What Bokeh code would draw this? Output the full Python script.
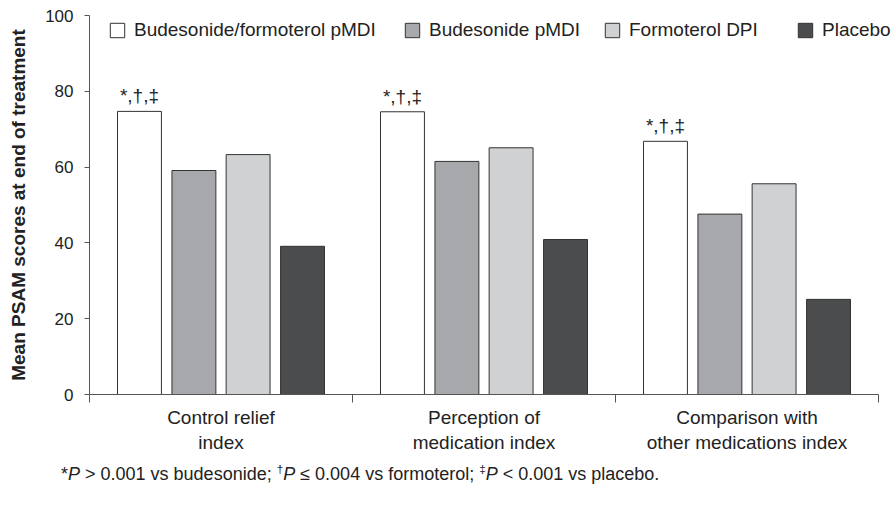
from bokeh.plotting import figure
from bokeh.models import (Range1d, FixedTicker, Legend, LegendItem, Div, ColumnDataSource)
from bokeh.layouts import column
from bokeh.transform import dodge
from bokeh.core.properties import value
from bokeh.embed import file_html
from bokeh.resources import INLINE

# ---------------- data ----------------
categories = ["Control relief\nindex", "Perception of\nmedication index",
              "Comparison with\nother medications index"]
series_names = ["Budesonide/formoterol pMDI", "Budesonide pMDI", "Formoterol DPI", "Placebo"]
bud_form = [74.7, 74.6, 66.8]
budesonide = [59.1, 61.5, 47.6]
formoterol = [63.3, 65.1, 55.6]
placebo = [39.1, 40.9, 25.1]
significance = ["*,\u2020,\u2021", "*,\u2020,\u2021", "*,\u2020,\u2021"]
y_ticks = [0, 20, 40, 60, 80, 100]

FONT = "Liberation Sans"
TXT = "#222222"

n_groups = len(categories)
group_centers = [i + 0.5 for i in range(n_groups)]
src = ColumnDataSource(dict(x=group_centers, bf=bud_form, b=budesonide,
                            f=formoterol, p=placebo, sig=significance))

# frame runs to the page edge so the legend is not clipped; x axis line stops at the last group
x_end = n_groups * (896 - 89) / (878 - 89)
p = figure(width=896, height=455, x_range=Range1d(0, x_end), y_range=Range1d(0, 100),
           output_backend="svg", toolbar_location=None,
           min_border_left=89, min_border_right=0, min_border_top=15, min_border_bottom=59)
p.outline_line_color = None
p.grid.grid_line_color = None
p.background_fill_color = "white"

fills = ["#ffffff", "#a7a8ab", "#d0d1d3", "#4b4c4e"]
cols = ["bf", "b", "f", "p"]
offsets = [-0.31, -0.103, 0.103, 0.31]
renderers = []
for col, fc, off in zip(cols, fills, offsets):
    r = p.vbar(x=dodge("x", off), top=col, width=0.167, bottom=0, source=src,
               fill_color=fc, line_color="#333333", line_width=1)
    renderers.append(r)

p.text(x=dodge("x", offsets[0]), y="bf", text="sig", source=src,
       text_align="center", text_baseline="bottom", y_offset=-5,
       text_font=value(FONT), text_font_size="19px", text_color=TXT)

# y axis
ya = p.yaxis[0]
ya.ticker = FixedTicker(ticks=y_ticks)
ya.axis_label = "Mean PSAM scores at end of treatment"
ya.axis_label_text_font = FONT
ya.axis_label_text_font_style = "bold"
ya.axis_label_text_font_size = "19px"
ya.axis_label_text_color = TXT
ya.axis_label_standoff = 13
ya.major_label_text_font = FONT
ya.major_label_text_font_size = "17px"
ya.major_label_text_color = TXT
ya.major_label_standoff = 11
ya.major_tick_out = 5
ya.major_tick_in = 0
ya.minor_tick_out = 0
ya.minor_tick_in = 0
ya.axis_line_color = "#555555"
ya.major_tick_line_color = "#555555"

# x axis
xa = p.xaxis[0]
xa.bounds = (0, n_groups)
xa.ticker = FixedTicker(ticks=group_centers, minor_ticks=list(range(n_groups + 1)))
xa.major_label_overrides = {c: lab for c, lab in zip(group_centers, categories)}
xa.major_label_text_font = FONT
xa.major_label_text_font_size = "19px"
xa.major_label_text_color = TXT
xa.major_tick_out = 0
xa.major_tick_in = 0
xa.major_label_standoff = 4
xa.minor_tick_out = 8
xa.minor_tick_in = 0
xa.minor_tick_line_color = "#555555"
xa.axis_line_color = "#555555"

# legends (one per item, to follow the reference spacing)
leg_locs = [(19, 353), (314, 353), (514, 353), (707, 353)]
for name, r, loc in zip(series_names, renderers, leg_locs):
    lg = Legend(items=[LegendItem(label=name, renderers=[r])], location=loc,
                orientation="horizontal", glyph_width=18, glyph_height=18,
                label_standoff=8, padding=0, margin=0, spacing=0,
                border_line_color=None, background_fill_alpha=0,
                label_text_font=FONT, label_text_font_size="19px",
                label_text_color=TXT, label_height=22)
    p.add_layout(lg)

foot = Div(text=('<span style="font-family:\'Liberation Sans\';font-size:18px;color:#222;white-space:nowrap;">'
                 '*<i>P</i> &gt; 0.001 vs budesonide; <sup style="font-size:65%">\u2020</sup><i>P</i> \u2264 0.004 vs formoterol; '
                 '<sup style="font-size:65%">\u2021</sup><i>P</i> &lt; 0.001 vs placebo.</span>'),
           width=820, height=22, margin=(6, 0, 0, 61))

layout = column(p, foot, spacing=0)
open("out.html", "w").write(file_html(layout, INLINE))
